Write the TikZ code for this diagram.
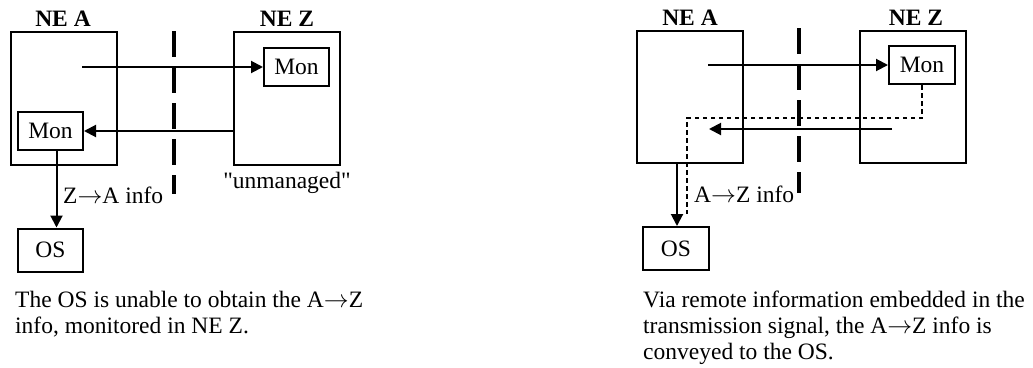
\documentclass[tikz,border=0pt]{standalone}
\usepackage{fontspec}
\setmainfont{Liberation Serif}
\usetikzlibrary{arrows.meta}
\newcommand{\toarr}{$\rightarrow$}
\newcommand{\dq}{\XeTeXglyph\XeTeXglyphindex "quotedbl"\relax}
\tikzset{
	nebox/.style={draw, line width=2pt, minimum width=106pt, minimum height=133pt, inner sep=0pt},
	monbox/.style={draw, line width=2pt, minimum width=65pt, minimum height=38pt, inner sep=0pt},
	osbox/.style={draw, line width=2pt, minimum width=65pt, minimum height=43pt, inner sep=0pt},
	sig/.style={line width=2pt, -{Triangle[length=12pt,width=12pt]}},
	remote/.style={line width=2pt, dash pattern=on 4.5pt off 3.5pt},
	divider/.style={line width=4pt, dash pattern=on 26pt off 10pt},
	txt/.style={inner sep=0pt, font=\fontsize{23.5}{26}\selectfont}
}

\begin{document}
\begin{tikzpicture}[x=1pt,y=-1pt]
\useasboundingbox (0,0) rectangle (1033,367);

% Left: unmanaged far end
\node[nebox] (neA) at (64,98.5){};
\node[nebox] (neZ) at (287,98.5){};
\node[txt,anchor=base] at (63,26){\bfseries NE A};
\node[txt,anchor=base] at (287,26){\bfseries NE Z};
\node[monbox,txt] (monZ) at (296.5,67){Mon};
\node[monbox,txt] (monA) at (50.5,131){Mon};
\node[osbox,txt] (osA) at (50.5,250){OS};

% Span boundary
\draw[divider] (174,31) -- (174,194);

% Signals A to Z and Z to A
\coordinate (srcA) at (82,67);
\draw[sig] (srcA) -- (monZ.west);
\draw[sig] (neZ.west |- monA) -- (monA.east);

% Report to the OS
\draw[sig] ([xshift=6pt]monA.south) -- ([xshift=6pt]osA.north);
\node[txt,anchor=base west] at (63,203){Z\toarr A info};
\node[txt,anchor=base] at (287,188){\dq unmanaged\dq};

\node[txt,anchor=base west,align=left] at (15,333){The OS is unable to obtain the A\toarr Z\\info, monitored in NE Z.};

% Right: remote information
\node[nebox,minimum height=132pt] (neA2) at (690,97){};
\node[nebox,minimum height=132pt] (neZ2) at (913,97){};
\node[txt,anchor=base] at (690,25){\bfseries NE A};
\node[txt,anchor=base] at (916,25){\bfseries NE Z};
\node[monbox,txt,minimum width=66pt] (monZ2) at (922,65){Mon};
\node[osbox,txt,minimum width=66pt] (osA2) at (676,248.5){OS};

% Span boundary
\draw[divider] (799,28) -- (799,193);

% Signals A to Z and Z to A
\coordinate (srcA2) at (708,65);
\draw[sig] (srcA2) -- (monZ2.west);
\coordinate (srcZ2) at (892,129);
\coordinate (dstA2) at (709,129);
\draw[sig] (srcZ2) -- (dstA2);

% Remote info carried back to NE A
\coordinate (turn2) at (687,118);
\coordinate (end2) at (687,214);
\draw[remote] (monZ2.south) |- (turn2) -- (end2);

% Report to the OS
\coordinate (drop2) at (677,163);
\draw[sig] (drop2) -- (drop2 |- osA2.north);
\node[txt,anchor=base west] at (694,202){A\toarr Z info};

\node[txt,anchor=base west,align=left] at (643,359){Via remote information embedded in the\\transmission signal, the A\toarr Z info is\\conveyed to the OS.};

\end{tikzpicture}
\end{document}
